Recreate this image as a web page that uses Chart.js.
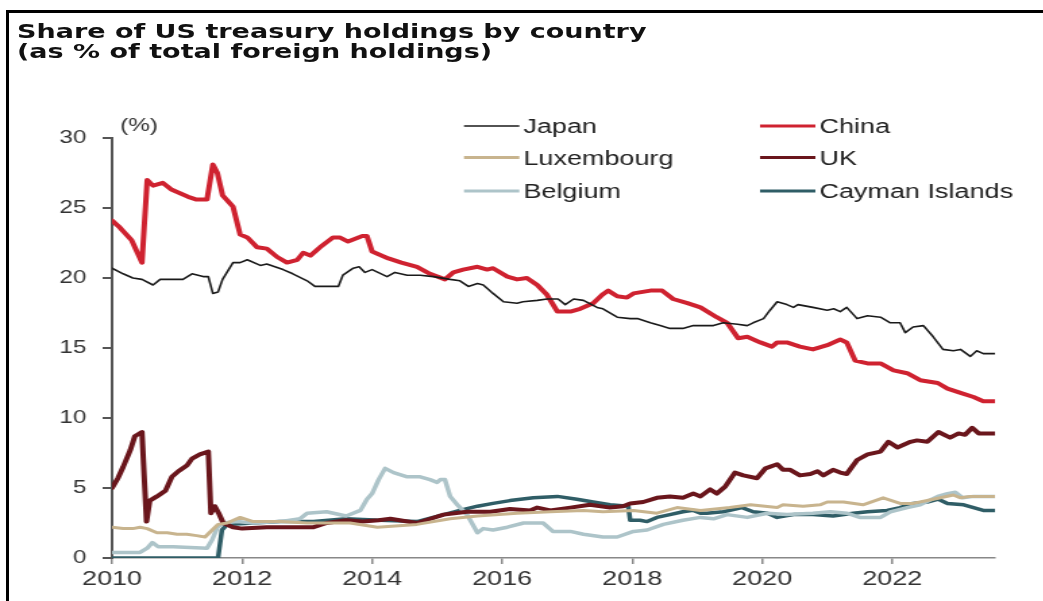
<!DOCTYPE html>
<html>
<head>
<meta charset="utf-8">
<title>Share of US treasury holdings by country</title>
<script src="https://cdn.jsdelivr.net/npm/chart.js@4.4.0/dist/chart.umd.min.js"></script>
<style>
  html, body { margin: 0; padding: 0; background: #fff; overflow: hidden; }
  body { width: 1043px; height: 601px; position: relative; }
  .frame { position: absolute; left: 6px; top: 10px; right: 0; bottom: 0; border-top: 3px solid #000; border-left: 3px solid #000; }
  /* figure is laid out narrow and widened afterwards, fonts included */
  #stage { position: absolute; left: 0; top: 0; width: 773px; height: 601px; transform: scaleX(1.35); transform-origin: 0 0; }
  #title { position: absolute; left: 12.6px; top: 21px; font: bold 20px/20px "DejaVu Sans", sans-serif; color: #111; white-space: nowrap; }
  #chartBox { position: absolute; left: 0; top: 0; width: 773px; height: 601px; }
</style>
</head>
<body>
<div class="frame"></div>
<div id="stage">
  <div id="title">Share of US treasury holdings by country<br>(as % of total foreign holdings)</div>
  <div id="chartBox"><canvas id="shareChart"></canvas></div>
</div>
<script>
// [year, % of total foreign holdings]
const japan = [
  [2010.0, 20.7], [2010.17, 20.3], [2010.32, 20.0], [2010.46, 19.9], [2010.63, 19.5], [2010.74, 19.9],
  [2010.89, 19.9], [2011.09, 19.9], [2011.23, 20.3], [2011.4, 20.1], [2011.48, 20.1], [2011.55, 18.9],
  [2011.63, 19.0], [2011.7, 19.9], [2011.86, 21.1], [2011.97, 21.1], [2012.08, 21.3], [2012.28, 20.9],
  [2012.38, 21.0], [2012.63, 20.6], [2012.78, 20.3], [2013.0, 19.8], [2013.12, 19.4], [2013.4, 19.4],
  [2013.48, 19.4], [2013.55, 20.2], [2013.71, 20.7], [2013.8, 20.8], [2013.89, 20.4], [2014.0, 20.6],
  [2014.23, 20.1], [2014.35, 20.4], [2014.54, 20.2], [2014.74, 20.2], [2014.94, 20.1], [2015.2, 19.9],
  [2015.35, 19.8], [2015.48, 19.4], [2015.62, 19.6], [2015.71, 19.5], [2015.86, 18.9], [2016.02, 18.3],
  [2016.23, 18.2], [2016.32, 18.3], [2016.54, 18.4], [2016.69, 18.5], [2016.86, 18.5], [2016.97, 18.1],
  [2017.1, 18.5], [2017.25, 18.4], [2017.46, 17.9], [2017.55, 17.8], [2017.77, 17.2], [2017.97, 17.1],
  [2018.08, 17.1], [2018.28, 16.8], [2018.43, 16.6], [2018.58, 16.4], [2018.78, 16.4], [2018.94, 16.6],
  [2019.1, 16.6], [2019.25, 16.6], [2019.4, 16.8], [2019.62, 16.7], [2019.77, 16.6], [2019.86, 16.8],
  [2020.02, 17.1], [2020.12, 17.7], [2020.23, 18.3], [2020.38, 18.1], [2020.48, 17.9], [2020.55, 18.1],
  [2020.78, 17.9], [2021.0, 17.7], [2021.1, 17.8], [2021.2, 17.6], [2021.3, 17.9], [2021.46, 17.1],
  [2021.62, 17.3], [2021.82, 17.2], [2021.97, 16.8], [2022.12, 16.8], [2022.2, 16.1], [2022.32, 16.5],
  [2022.48, 16.6], [2022.63, 15.8], [2022.78, 14.9], [2022.94, 14.8], [2023.05, 14.9], [2023.2, 14.4],
  [2023.3, 14.8], [2023.4, 14.6], [2023.58, 14.6]
];
const china = [
  [2010.0, 24.1], [2010.12, 23.6], [2010.3, 22.7], [2010.46, 21.1], [2010.54, 27.0], [2010.63, 26.6],
  [2010.78, 26.8], [2010.92, 26.3], [2011.17, 25.8], [2011.3, 25.6], [2011.46, 25.6], [2011.55, 28.1],
  [2011.62, 27.5], [2011.7, 25.9], [2011.86, 25.1], [2011.97, 23.1], [2012.08, 22.9], [2012.23, 22.2],
  [2012.38, 22.1], [2012.54, 21.5], [2012.69, 21.1], [2012.85, 21.3], [2012.94, 21.8], [2013.05, 21.6],
  [2013.2, 22.2], [2013.4, 22.9], [2013.5, 22.9], [2013.63, 22.6], [2013.85, 23.0], [2013.92, 23.0],
  [2014.0, 21.9], [2014.25, 21.4], [2014.45, 21.1], [2014.69, 20.8], [2014.89, 20.3], [2015.12, 19.9],
  [2015.25, 20.4], [2015.4, 20.6], [2015.62, 20.8], [2015.77, 20.6], [2015.86, 20.7], [2016.08, 20.1],
  [2016.23, 19.9], [2016.38, 20.0], [2016.54, 19.5], [2016.69, 18.8], [2016.85, 17.6], [2017.05, 17.6],
  [2017.2, 17.8], [2017.4, 18.2], [2017.54, 18.8], [2017.63, 19.1], [2017.77, 18.7], [2017.92, 18.6],
  [2018.02, 18.9], [2018.28, 19.1], [2018.46, 19.1], [2018.63, 18.5], [2018.85, 18.2], [2019.05, 17.9],
  [2019.3, 17.2], [2019.46, 16.8], [2019.63, 15.7], [2019.77, 15.8], [2019.97, 15.4], [2020.15, 15.1],
  [2020.23, 15.4], [2020.38, 15.4], [2020.58, 15.1], [2020.78, 14.9], [2021.0, 15.2], [2021.2, 15.6],
  [2021.3, 15.4], [2021.43, 14.1], [2021.62, 13.9], [2021.82, 13.9], [2022.02, 13.4], [2022.23, 13.2],
  [2022.43, 12.7], [2022.7, 12.5], [2022.85, 12.1], [2023.05, 11.8], [2023.25, 11.5], [2023.4, 11.2],
  [2023.58, 11.2]
];
const luxembourg = [
  [2010.0, 2.2], [2010.17, 2.1], [2010.32, 2.1], [2010.43, 2.2], [2010.54, 2.1], [2010.69, 1.8],
  [2010.85, 1.8], [2011.0, 1.7], [2011.15, 1.7], [2011.3, 1.6], [2011.43, 1.5], [2011.54, 2.0],
  [2011.63, 2.4], [2011.77, 2.5], [2011.97, 2.9], [2012.17, 2.6], [2012.6, 2.6], [2013.0, 2.5],
  [2013.66, 2.5], [2014.08, 2.2], [2014.69, 2.4], [2015.2, 2.8], [2015.62, 3.0], [2016.23, 3.2],
  [2016.74, 3.3], [2017.25, 3.4], [2017.55, 3.3], [2018.02, 3.4], [2018.38, 3.2], [2018.69, 3.6],
  [2019.05, 3.4], [2019.5, 3.6], [2019.82, 3.8], [2020.23, 3.6], [2020.32, 3.8], [2020.63, 3.7],
  [2020.89, 3.8], [2021.0, 4.0], [2021.25, 4.0], [2021.55, 3.8], [2021.86, 4.3], [2022.12, 3.9],
  [2022.32, 3.9], [2022.63, 4.2], [2022.94, 4.5], [2023.05, 4.3], [2023.2, 4.4], [2023.58, 4.4]
];
const uk = [
  [2010.0, 5.0], [2010.09, 5.7], [2010.17, 6.5], [2010.28, 7.7], [2010.35, 8.7], [2010.46, 9.0],
  [2010.53, 2.6], [2010.58, 4.1], [2010.69, 4.4], [2010.82, 4.8], [2010.92, 5.8], [2011.02, 6.2],
  [2011.15, 6.6], [2011.23, 7.1], [2011.35, 7.4], [2011.48, 7.6], [2011.52, 3.2], [2011.58, 3.7],
  [2011.64, 3.2], [2011.71, 2.5], [2011.86, 2.2], [2012.0, 2.1], [2012.38, 2.2], [2012.78, 2.2],
  [2013.1, 2.2], [2013.3, 2.5], [2013.6, 2.7], [2013.85, 2.6], [2014.1, 2.7], [2014.28, 2.8],
  [2014.69, 2.5], [2015.1, 3.1], [2015.46, 3.3], [2015.82, 3.3], [2016.12, 3.5], [2016.43, 3.4],
  [2016.54, 3.6], [2016.74, 3.4], [2017.05, 3.6], [2017.35, 3.8], [2017.66, 3.6], [2017.86, 3.7],
  [2017.97, 3.9], [2018.17, 4.0], [2018.38, 4.3], [2018.58, 4.4], [2018.78, 4.3], [2018.94, 4.6],
  [2019.05, 4.4], [2019.2, 4.9], [2019.3, 4.6], [2019.43, 5.1], [2019.58, 6.1], [2019.71, 5.9],
  [2019.92, 5.7], [2020.05, 6.4], [2020.23, 6.7], [2020.32, 6.3], [2020.43, 6.3], [2020.58, 5.9],
  [2020.74, 6.0], [2020.85, 6.2], [2020.94, 5.9], [2021.09, 6.3], [2021.2, 6.1], [2021.3, 6.0],
  [2021.46, 7.0], [2021.62, 7.4], [2021.82, 7.6], [2021.94, 8.3], [2022.08, 7.9], [2022.28, 8.3],
  [2022.38, 8.4], [2022.54, 8.3], [2022.71, 9.0], [2022.89, 8.6], [2023.02, 8.9], [2023.12, 8.8],
  [2023.23, 9.3], [2023.33, 8.9], [2023.58, 8.9]
];
const belgium = [
  [2010.0, 0.4], [2010.43, 0.4], [2010.54, 0.7], [2010.62, 1.1], [2010.71, 0.8], [2010.94, 0.8],
  [2011.46, 0.7], [2011.54, 1.3], [2011.62, 2.2], [2011.71, 2.5], [2011.92, 2.6], [2012.17, 2.5],
  [2012.58, 2.6], [2012.89, 2.8], [2013.0, 3.2], [2013.3, 3.3], [2013.6, 3.0], [2013.82, 3.4],
  [2013.92, 4.2], [2014.0, 4.6], [2014.1, 5.6], [2014.2, 6.4], [2014.33, 6.1], [2014.54, 5.8],
  [2014.74, 5.8], [2014.89, 5.6], [2015.0, 5.4], [2015.05, 5.6], [2015.12, 5.6], [2015.2, 4.4],
  [2015.31, 3.8], [2015.46, 3.1], [2015.62, 1.8], [2015.71, 2.1], [2015.86, 2.0], [2016.08, 2.2],
  [2016.33, 2.5], [2016.63, 2.5], [2016.78, 1.9], [2017.05, 1.9], [2017.25, 1.7], [2017.55, 1.5],
  [2017.77, 1.5], [2018.02, 1.9], [2018.23, 2.0], [2018.48, 2.4], [2018.78, 2.7], [2019.05, 2.9],
  [2019.25, 2.8], [2019.46, 3.1], [2019.77, 2.9], [2020.08, 3.2], [2020.38, 3.1], [2020.78, 3.2],
  [2021.05, 3.3], [2021.3, 3.2], [2021.5, 2.9], [2021.82, 2.9], [2021.97, 3.3], [2022.23, 3.6],
  [2022.43, 3.8], [2022.7, 4.4], [2022.85, 4.6], [2022.97, 4.7], [2023.08, 4.3], [2023.25, 4.4],
  [2023.58, 4.4]
];
const cayman = [
  [2010.0, 0.0], [2011.63, 0.0], [2011.69, 2.0], [2011.77, 2.4], [2012.17, 2.5], [2012.58, 2.6],
  [2013.1, 2.6], [2013.6, 2.8], [2014.12, 2.7], [2014.69, 2.6], [2015.1, 3.1], [2015.35, 3.4],
  [2015.62, 3.7], [2015.86, 3.9], [2016.12, 4.1], [2016.48, 4.3], [2016.85, 4.4], [2017.15, 4.2],
  [2017.4, 4.0], [2017.66, 3.8], [2017.94, 3.7], [2017.97, 2.7], [2018.12, 2.7], [2018.23, 2.6],
  [2018.38, 2.9], [2018.58, 3.1], [2018.78, 3.3], [2018.94, 3.4], [2019.05, 3.2], [2019.15, 3.2],
  [2019.4, 3.3], [2019.69, 3.6], [2019.86, 3.3], [2020.08, 3.2], [2020.23, 2.9], [2020.48, 3.1],
  [2020.78, 3.1], [2021.09, 3.0], [2021.4, 3.2], [2021.62, 3.3], [2021.92, 3.4], [2022.12, 3.6],
  [2022.32, 3.9], [2022.54, 4.0], [2022.71, 4.2], [2022.85, 3.9], [2023.1, 3.8], [2023.25, 3.6],
  [2023.4, 3.4], [2023.58, 3.4]
];

const yearTicks = [2010, 2012, 2014, 2016, 2018, 2020, 2022];
const FONT = '"Liberation Sans", Arial, sans-serif';

function toPoints(rows) {
    return rows.map(r => ({ x: r[0], y: r[1] }));
}

// legend is two columns, three rows, line sample in front of the name
const legendCols = [343.7, 563];
const legendRows = [126, 157.5, 191];

const sideLegend = {
    id: 'sideLegend',
    afterDraw(chart) {
        const ctx = chart.ctx;
        ctx.save();
        ctx.font = '20px ' + FONT;
        ctx.textBaseline = 'alphabetic';
        ctx.textAlign = 'left';
        chart.data.datasets.forEach((ds, i) => {
            const x = legendCols[i % 2];
            const y = legendRows[Math.floor(i / 2)];
            ctx.strokeStyle = ds.borderColor;
            ctx.lineWidth = Math.min(ds.borderWidth, 3);
            ctx.beginPath();
            ctx.moveTo(x, y);
            ctx.lineTo(x + 41, y);
            ctx.stroke();
            ctx.fillStyle = '#222';
            ctx.fillText(ds.label, x + 44, y + 7);
        });
        // unit over the y axis
        ctx.font = '18px ' + FONT;
        ctx.fillStyle = '#333';
        ctx.fillText('(%)', chart.chartArea.left + 6, 131);
        ctx.restore();
    }
};

const ctx = document.getElementById('shareChart').getContext('2d');
new Chart(ctx, {
    type: 'line',
    data: {
        datasets: [
            { label: 'Japan', data: toPoints(japan), borderColor: '#1a1a1a', borderWidth: 1.6 },
            { label: 'China', data: toPoints(china), borderColor: '#cf2230', borderWidth: 4 },
            { label: 'Luxembourg', data: toPoints(luxembourg), borderColor: '#c8b48e', borderWidth: 3 },
            { label: 'UK', data: toPoints(uk), borderColor: '#6a161c', borderWidth: 4 },
            { label: 'Belgium', data: toPoints(belgium), borderColor: '#adc4c9', borderWidth: 3.5 },
            { label: 'Cayman Islands', data: toPoints(cayman), borderColor: '#2f5d66', borderWidth: 3.5 }
        ]
    },
    options: {
        responsive: true,
        maintainAspectRatio: false,
        animation: false,
        layout: { padding: { top: 138, right: 36, left: 0, bottom: 0 } },
        plugins: { legend: { display: false }, tooltip: { enabled: false } },
        elements: {
            point: { radius: 0 },
            line: { tension: 0, borderJoinStyle: 'round', borderCapStyle: 'round' }
        },
        scales: {
            x: {
                type: 'linear',
                min: 2010,
                max: 2023.58,
                afterFit: s => { s.height = 43; },
                afterBuildTicks: s => { s.ticks = yearTicks.map(v => ({ value: v })); },
                ticks: {
                    autoSkip: false, maxRotation: 0, padding: 3, color: '#333',
                    font: { family: FONT, size: 20 },
                    callback: v => String(v)
                },
                grid: { drawOnChartArea: false, tickLength: 6, color: '#888', lineWidth: 1.5 },
                border: { color: '#888', width: 1.5 }
            },
            y: {
                min: 0,
                max: 30,
                afterFit: s => { s.width = 83; },
                ticks: { stepSize: 5, padding: 12, color: '#333', font: { family: FONT, size: 18 } },
                grid: { drawOnChartArea: false, tickLength: 7, color: '#555', lineWidth: 2 },
                border: { color: '#555', width: 2 }
            }
        }
    },
    plugins: [sideLegend]
});
</script>
</body>
</html>
